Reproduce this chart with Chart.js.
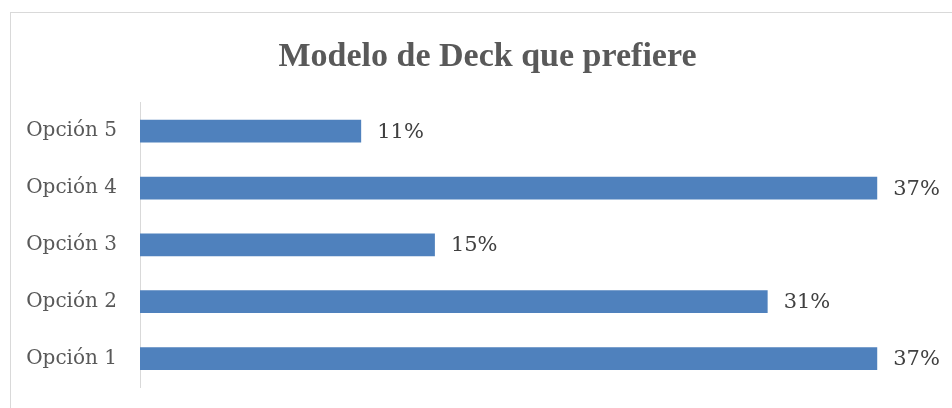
<!DOCTYPE html>
<html>
<head>
<meta charset="utf-8">
<script src="https://cdn.jsdelivr.net/npm/chart.js@4"></script>
<style>
    html, body { margin: 0; padding: 0; background: #fff; overflow: hidden; }
    #wrap { position: relative; width: 952px; height: 408px; }
    #frame { position: absolute; left: 10px; top: 12px; width: 1000px; height: 500px; border: 1px solid #d9d9d9; }
    canvas { position: absolute; left: 0; top: 0; }
</style>
</head>
<body>
<div id="wrap">
    <div id="frame"></div>
    <canvas id="deckChart" width="952" height="408"></canvas>
</div>
<script>
const titleText = 'Modelo de Deck que prefiere';
const categories = ['Opción 5', 'Opción 4', 'Opción 3', 'Opción 2', 'Opción 1'];
const shares = [11.1, 37.0, 14.8, 31.5, 37.0];
const shareLabels = ['11%', '37%', '15%', '31%', '37%'];

const serif = "'Liberation Serif', 'DejaVu Serif', serif";
const labelSerif = "'DejaVu Serif', 'Liberation Serif', serif";

// labels at the end of each bar
const endLabels = {
    id: 'endLabels',
    afterDatasetsDraw(chart) {
        const ctx = chart.ctx;
        const meta = chart.getDatasetMeta(0);
        ctx.save();
        ctx.font = '21px ' + labelSerif;
        ctx.fillStyle = '#404040';
        ctx.textAlign = 'left';
        ctx.textBaseline = 'middle';
        meta.data.forEach(function (bar, i) {
            ctx.fillText(shareLabels[i], bar.x + 16, bar.y + 1);
        });
        ctx.restore();
    }
};

// the title sits centred on the frame, a bit right of the canvas centre
const titleShift = {
    id: 'titleShift',
    afterLayout(chart) {
        if (chart.titleBlock) {
            chart.titleBlock.left += 19;
            chart.titleBlock.right += 19;
        }
    }
};

new Chart(document.getElementById('deckChart'), {
    type: 'bar',
    data: {
        labels: categories,
        datasets: [{
            data: shares,
            backgroundColor: '#4f81bd',
            borderColor: '#4f81bd',
            borderWidth: 0,
            barPercentage: 0.8,
            categoryPercentage: 0.5
        }]
    },
    options: {
        indexAxis: 'y',
        responsive: false,
        animation: false,
        events: [],
        layout: { padding: { left: 0, right: 15, top: 0, bottom: 21 } },
        scales: {
            x: {
                display: false,
                min: 0,
                max: 40
            },
            y: {
                grid: { display: false, drawTicks: false },
                border: { display: true, color: '#d9d9d9', width: 1 },
                ticks: {
                    color: '#595959',
                    font: { family: labelSerif, size: 20 },
                    padding: 23
                },
                afterFit: function (scale) {
                    scale.width = 140;
                    scale.paddingTop = 0;
                    scale.paddingBottom = 0;
                }
            }
        },
        plugins: {
            legend: { display: false },
            tooltip: { enabled: false },
            title: {
                display: true,
                text: titleText,
                color: '#595959',
                font: { family: serif, size: 34, weight: 'bold', lineHeight: 1.2 },
                padding: { top: 37, bottom: 25 }
            }
        }
    },
    plugins: [endLabels, titleShift]
});
</script>
</body>
</html>
